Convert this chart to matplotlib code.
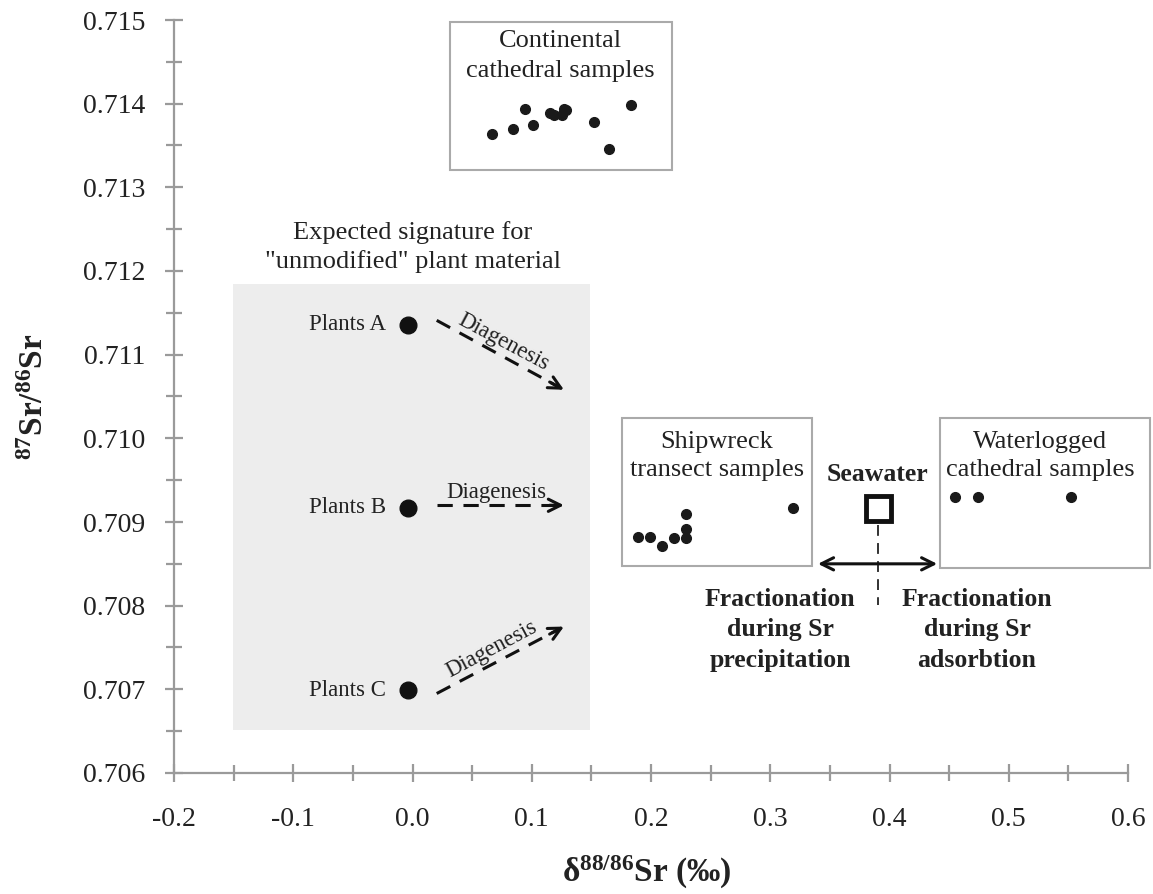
import matplotlib
matplotlib.use("Agg")
import matplotlib.pyplot as plt
from matplotlib.patches import Rectangle
from matplotlib.ticker import MultipleLocator, FormatStrFormatter

plt.rcParams['font.family'] = ['Liberation Serif', 'DejaVu Serif']
plt.rcParams['mathtext.fontset'] = 'custom'
plt.rcParams['mathtext.rm'] = 'Liberation Serif'
plt.rcParams['mathtext.bf'] = 'Liberation Serif:bold'
plt.rcParams['mathtext.it'] = 'Liberation Serif:italic'
plt.rcParams['axes.unicode_minus'] = False

# ---- data ----
continental_x = [0.067, 0.084, 0.094, 0.101, 0.115, 0.119, 0.125, 0.127, 0.129, 0.152, 0.165, 0.183]
continental_y = [0.71364, 0.71370, 0.71394, 0.71375, 0.71389, 0.71387, 0.71387, 0.71394, 0.71392,
                 0.71378, 0.71346, 0.71399]
shipwreck_x = [0.189, 0.199, 0.209, 0.219, 0.229, 0.229, 0.229, 0.319]
shipwreck_y = [0.70882, 0.70882, 0.70871, 0.70881, 0.70881, 0.70892, 0.70910, 0.70917]
waterlogged_x = [0.455, 0.474, 0.552]
waterlogged_y = [0.70930, 0.70930, 0.70930]
seawater_x = [0.390]
seawater_y = [0.70917]
plant_labels = ["Plants A", "Plants B", "Plants C"]
plant_x = [-0.0035, -0.0035, -0.0035]
plant_y = [0.71136, 0.70917, 0.70699]
diag_end_y = [0.71058, 0.70920, 0.70775]
diag_start_y = [0.71141, 0.70920, 0.70695]

xticks = [-0.2, -0.1, 0.0, 0.1, 0.2, 0.3, 0.4, 0.5, 0.6]
yticks = [0.706, 0.707, 0.708, 0.709, 0.710, 0.711, 0.712, 0.713, 0.714, 0.715]

fig = plt.figure(figsize=(11.53, 8.94), dpi=100)
ax = fig.add_axes([174/1153, 1-773/894, (1128-174)/1153, (773-20)/894])
ax.set_xlim(-0.2, 0.6)
ax.set_ylim(0.706, 0.715)

spine_col = '#9a9a9a'
for s in ['top', 'right']:
    ax.spines[s].set_visible(False)
for s in ['left', 'bottom']:
    ax.spines[s].set_color(spine_col)
    ax.spines[s].set_linewidth(1.6)

ax.set_xticks(xticks)
ax.set_yticks(yticks)
ax.xaxis.set_minor_locator(MultipleLocator(0.05))
ax.yaxis.set_minor_locator(MultipleLocator(0.0005))
ax.xaxis.set_major_formatter(FormatStrFormatter('%.1f'))
ax.yaxis.set_major_formatter(FormatStrFormatter('%.3f'))
ax.tick_params(which='major', direction='inout', length=13, width=1.6, color=spine_col,
               labelsize=20)
ax.tick_params(which='minor', direction='inout', length=11, width=1.6, color=spine_col)
ax.tick_params(axis='x', which='major', pad=18)
ax.tick_params(axis='y', which='major', pad=14)

# gray expected-signature region
ax.add_patch(Rectangle((-0.1505, 0.706514), 0.2993, 0.711845-0.706514,
                       facecolor='#ededed', edgecolor='none', zorder=0))
ax.text(0.0004, 0.71229, 'Expected signature for\n"unmodified" plant material',
        ha='center', va='center', fontsize=19, color='#222222', linespacing=1.35)

box_kw = dict(facecolor='white', edgecolor='#aaaaaa', linewidth=1.5, zorder=1, clip_on=False)
ax.add_patch(Rectangle((0.0314, 0.713207), 0.2176-0.0314, 0.714976-0.713207, **box_kw))
ax.add_patch(Rectangle((0.1757, 0.708474), 0.335-0.1757, 0.710243-0.708474, **box_kw))
ax.add_patch(Rectangle((0.4424, 0.70845), 0.6185-0.4424, 0.710243-0.70845, **box_kw))

ax.text(0.1237, 0.71457, 'Continental\ncathedral samples', ha='center', va='center',
        fontsize=19, color='#222222', linespacing=1.45, zorder=3)
ax.text(0.2553, 0.70979, 'Shipwreck\ntransect samples', ha='center', va='center',
        fontsize=19, color='#222222', linespacing=1.35, zorder=3)
ax.text(0.5262, 0.70979, 'Waterlogged\ncathedral samples', ha='center', va='center',
        fontsize=19, color='#222222', linespacing=1.35, zorder=3, clip_on=False)

dot_kw = dict(linestyle='none', marker='o', color='#1a1a1a', markersize=7, zorder=4, clip_on=False)
ax.plot(continental_x, continental_y, **dot_kw)
ax.plot(shipwreck_x, shipwreck_y, **dot_kw)
ax.plot(waterlogged_x, waterlogged_y, **dot_kw)

# seawater
ax.plot(seawater_x, seawater_y, linestyle='none', marker='s', markersize=18,
        markerfacecolor='white', markeredgecolor='#111111', markeredgewidth=3.5, zorder=5)
ax.text(seawater_x[0], 0.70957, 'Seawater', ha='center', va='center', fontsize=18.5,
        fontweight='bold', color='#222222')
ax.plot([seawater_x[0], seawater_x[0]], [0.70897, 0.70801], color='#222222', lw=1.3,
        linestyle=(0, (6, 4)), zorder=3)
ax.annotate('', xy=(0.340, 0.70850), xytext=(0.440, 0.70850),
            arrowprops=dict(arrowstyle='<->', color='#111111', lw=2.2,
                            mutation_scale=22, shrinkA=0, shrinkB=0))
ax.text(0.3082, 0.70771, 'Fractionation\nduring Sr\nprecipitation', ha='center', va='center',
        fontsize=18.5, fontweight='bold', color='#222222', linespacing=1.42)
ax.text(0.4734, 0.70771, 'Fractionation\nduring Sr\nadsorbtion', ha='center', va='center',
        fontsize=18.5, fontweight='bold', color='#222222', linespacing=1.42)

# plants
ax.plot(plant_x, plant_y, linestyle='none', marker='o', markersize=12, color='#111111', zorder=4)
for lab, px, py in zip(plant_labels, plant_x, plant_y):
    ax.text(px - 0.019, py, lab, ha='right', va='center', fontsize=16.5, color='#222222')

x0, x1 = 0.0203, 0.1270
for ys, ye in zip(diag_start_y, diag_end_y):
    ax.plot([x0, x1 - 0.004], [ys, ys + (ye - ys) * (x1 - 0.004 - x0) / (x1 - x0)],
            color='#111111', lw=2.2, linestyle=(0, (5, 3.5)), zorder=3)
    ax.annotate('', xy=(x1, ye), xytext=(x1 - 0.012, ys + (ye - ys) * (1 - 0.012 / (x1 - x0))),
                arrowprops=dict(arrowstyle='->', color='#111111', lw=2.2,
                                mutation_scale=22, shrinkA=0, shrinkB=0))

diag_lx = [0.0759, 0.0700, 0.0667]
diag_ly = [0.71115, 0.70935, 0.70748]
diag_rot = [-28, 0, 28]
for lx, ly, r in zip(diag_lx, diag_ly, diag_rot):
    ax.text(lx, ly, 'Diagenesis', ha='center', va='center', fontsize=16.5, rotation=r,
            rotation_mode='anchor', color='#222222')

ax.set_ylabel(r'$\mathbf{^{87}Sr/^{86}Sr}$', fontsize=24, color='#222222')
ax.yaxis.set_label_coords(-0.13, 0.5)
ax.set_xlabel(r'$\mathbf{δ^{88/86}Sr\ (‰)}$', fontsize=24, color='#222222')
ax.xaxis.set_label_coords(0.495, -0.108)

for lab in ax.get_xticklabels() + ax.get_yticklabels():
    lab.set_color('#222222')

fig.savefig('out.png', dpi=100)
